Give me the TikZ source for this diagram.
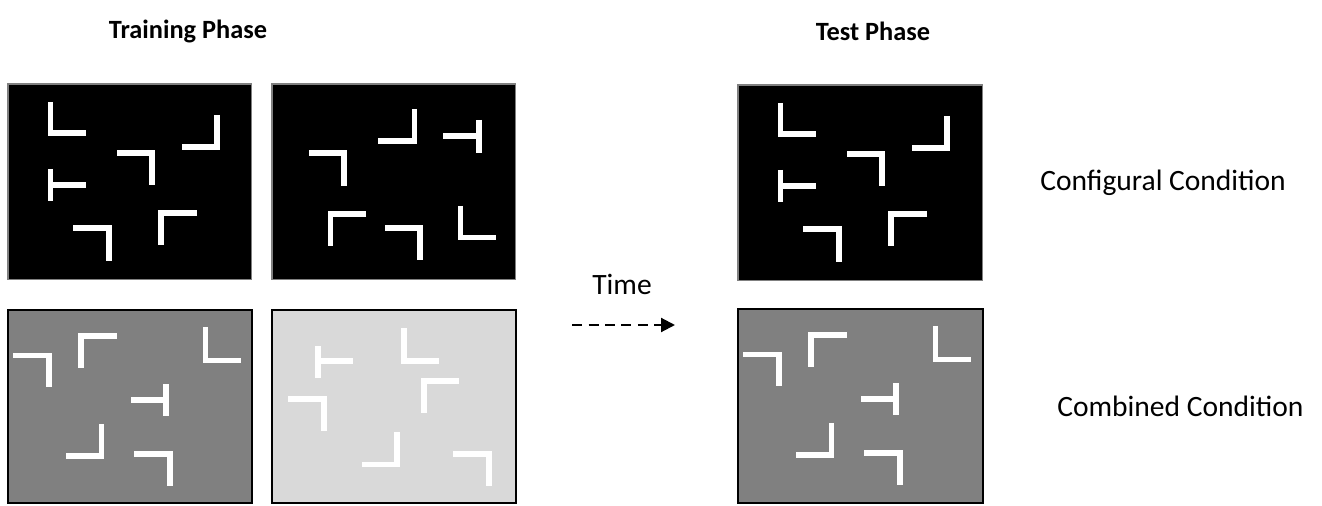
\documentclass[tikz,border=0pt]{standalone}
\usepackage{fontspec}
\setmainfont{Carlito}
\usetikzlibrary{arrows.meta,positioning}

% items of each display, relative to its top left corner
\newcommand{\configA}{
    \draw[bar] (42.5,18) -- (42.5,49) -- (78,49);
    \draw[bar] (209,31) -- (209,63) -- (174,63);
    \draw[bar] (109,69) -- (144,69) -- (144,101);
    \draw[bar] (42.5,85) -- (42.5,117);
    \draw[bar] (42.5,101) -- (78,101);
    \draw[bar] (65,144) -- (101,144) -- (101,177);
    \draw[bar] (189,129) -- (153,129) -- (153,161);
}
\newcommand{\configB}{
    \draw[bar] (142.5,25) -- (142.5,57) -- (106,57);
    \draw[bar] (207,36) -- (207,69);
    \draw[bar] (171,52) -- (207,52);
    \draw[bar] (37,69) -- (72,69) -- (72,102);
    \draw[bar] (94,130) -- (58.5,130) -- (58.5,162);
    \draw[bar] (113,144) -- (148,144) -- (148,176);
    \draw[bar] (188.5,122) -- (188.5,153.5) -- (224,153.5);
}
\newcommand{\configC}{
    \draw[bar] (5,45.5) -- (41,45.5) -- (41,77);
    \draw[bar] (109,26) -- (73,26) -- (73,58);
    \draw[bar] (197.5,17) -- (197.5,50.5) -- (233,50.5);
    \draw[bar] (158,74) -- (158,106);
    \draw[bar] (123,90) -- (158,90);
    \draw[bar] (93.5,114) -- (93.5,146) -- (58,146);
    \draw[bar] (126,144) -- (162,144) -- (162,176);
}
\newcommand{\configD}{
    \draw[bar] (46,36) -- (46,68);
    \draw[bar] (46,51) -- (81,51);
    \draw[bar] (132,18) -- (132,51) -- (167,51);
    \draw[bar] (187,71) -- (152,71) -- (152,103);
    \draw[bar] (16,89) -- (52,89) -- (52,121);
    \draw[bar] (125,122) -- (125,154.5) -- (90,154.5);
    \draw[bar] (181,144) -- (217,144) -- (217,176);
}

\begin{document}
\begin{tikzpicture}[
    x=0.02cm, y=-0.02cm,
    every node/.style={font=\fontsize{16.8}{20}\selectfont},
    heading/.style={font=\fontsize{15}{18}\selectfont\bfseries},
    panel/.style={rectangle, draw=gray, line width=0.6pt, anchor=north west, inner sep=0pt, outer sep=0pt, minimum width=4.88cm, minimum height=3.92cm},
    framed/.style={draw=black, line width=1.2pt, minimum height=3.86cm},
    bar/.style={white, line width=0.11cm, line cap=butt, line join=miter},
]
    \useasboundingbox (0,0) rectangle (1322,506);

    % Headings
    \node[heading] (train) at (188,31) {Training Phase};
    \node[heading] (test) at (873,31) {Test Phase};

    % Training displays
    \node[panel, fill=black] (trainA) at (8,84) {};
    \node[panel, fill=black] (trainB) at (272,84) {};
    \node[panel, framed, fill=gray] (trainC) at (8,310) {};
    \node[panel, framed, fill=black!15] (trainD) at (272,310) {};
    \begin{scope}[shift={(trainA.north west)}] \configA \end{scope}
    \begin{scope}[shift={(trainB.north west)}] \configB \end{scope}
    \begin{scope}[shift={(trainC.north west)}] \configC \end{scope}
    \begin{scope}[shift={(trainD.north west)}] \configD \end{scope}

    % Test displays
    \node[panel, fill=black, minimum width=4.9cm] (testA) at (738,85) {};
    \node[panel, framed, fill=gray, minimum width=4.9cm, minimum height=3.88cm] (testB) at (738,309) {};
    \begin{scope}[shift={(testA.north west)}] \configA \end{scope}
    \begin{scope}[shift={(testB.north west)}] \configC \end{scope}

    % Time arrow
    \coordinate (timeS) at (572,325);
    \coordinate (timeE) at (675,325);
    \draw[line width=1.2pt, dash pattern=on 0.2cm off 0.13cm, -{Triangle[length=0.28cm, width=0.28cm]}] (timeS) -- (timeE);
    \node (time) at (622,284) {Time};

    % Conditions
    \node[right=1.14cm of testA, inner sep=0pt] (config) {Configural Condition};
    \node[right=1.48cm of testB, inner sep=0pt] (combined) {Combined Condition};
\end{tikzpicture}
\end{document}
